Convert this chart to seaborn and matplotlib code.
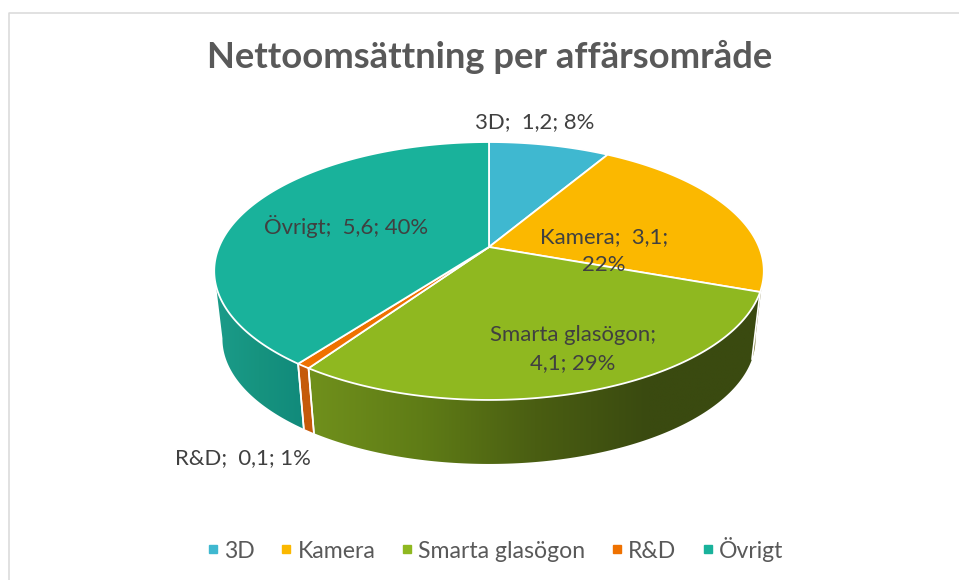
import numpy as np
import seaborn as sns
import matplotlib
matplotlib.use("Agg")
import matplotlib.pyplot as plt
from matplotlib.colors import LinearSegmentedColormap
from matplotlib.lines import Line2D
from matplotlib.patches import Polygon

categories = ["3D", "Kamera", "Smarta glasögon", "R&D", "Övrigt"]
values = [1.2, 3.1, 4.1, 0.1, 5.6]
percents = [8, 22, 29, 1, 40]
top_colors = ["#3fb8d0", "#fbb800", "#8fb820", "#ef7100", "#19b29b"]

# side wall gradients, left to right
side_colors = [
    ["#3fb8d0", "#3fb8d0"],
    ["#6b6a1c", "#8f8a60"],
    ["#70901c", "#5f7c16", "#4a5e12", "#3a4a10", "#3a4a10"],
    ["#c55a0a", "#c55a0a"],
    ["#1b9c8a", "#16937f", "#118a7b"],
]

# label centres in pixels
label_pos = [(535, 122), (604, 251), (573, 349), (243, 458), (346, 226)]
label_text = [
    "3D;  1,2; 8%",
    "Kamera;  3,1;\n22%",
    "Smarta glasögon;\n4,1; 29%",
    "R&D;  0,1; 1%",
    "Övrigt;  5,6; 40%",
]

sns.set_theme(style="white")
plt.rcParams["font.family"] = ["Lato", "DejaVu Sans"]
palette = sns.color_palette(top_colors)

CX, CY = 489, 247
A, B, K = 270, 124.5, 0.186
SHRINK, DROP = 0.97, 68.6


def rim(t):
    # t in degrees, clockwise from the back of the disc
    r = np.radians(t)
    u, v = np.sin(r), np.cos(r)
    d = 1 + K * v
    return A * u / d, -B * v / d


fig = plt.figure(figsize=(9.59, 5.8), dpi=100)
ax = fig.add_axes([0, 0, 1, 1])
ax.set_xlim(0, 959)
ax.set_ylim(580, 0)
ax.axis("off")

ax.plot([9, 9, 959], [580, 12.5, 12.5], color="#d9d9d9", lw=1.1)

edges = np.concatenate([[0], np.cumsum(values)]) / sum(values) * 360
vis0, vis1 = 100.0, 259.5

# side walls
for i in range(len(values)):
    t0, t1 = max(edges[i], vis0), min(edges[i + 1], vis1)
    if t1 <= t0:
        continue
    ts = np.linspace(t0, t1, 120)
    x, y = rim(ts)
    top = np.column_stack([CX + x, CY + y])
    bot = np.column_stack([CX + SHRINK * x, CY + SHRINK * y + DROP])
    pts = np.vstack([top, bot[::-1]])
    cm = LinearSegmentedColormap.from_list(f"side{i}", side_colors[i])
    poly = Polygon(pts, closed=True, fc="none", ec="none")
    ax.add_patch(poly)
    im = ax.imshow(np.linspace(0, 1, 256)[None, :], cmap=cm, aspect="auto", interpolation="bilinear",
                   extent=[pts[:, 0].min(), pts[:, 0].max(), pts[:, 1].max(), pts[:, 1].min()], zorder=1)
    im.set_clip_path(poly)
    if i in (2, 3, 4):
        # white seams between the walls
        for j in ([0] if i == 4 else [0, -1]):
            ax.plot([top[j, 0], bot[j, 0]], [top[j, 1], bot[j, 1]], color="white", lw=1.2, zorder=2)

# top surface
for i in range(len(values)):
    ts = np.linspace(edges[i], edges[i + 1], 200)
    x, y = rim(ts)
    xs = np.concatenate([[CX], CX + x])
    ys = np.concatenate([[CY], CY + y])
    ax.fill(xs, ys, facecolor=palette[i], edgecolor="white", lw=1.3, zorder=3)

ax.set_xlim(0, 959)
ax.set_ylim(580, 0)

ax.text(489.5, 57, "Nettoomsättning per affärsområde", ha="center", va="center",
        fontsize=26.2, fontweight="bold", color="#595959")

for (lx, ly), txt in zip(label_pos, label_text):
    ax.text(lx, ly, txt, ha="center", va="center", fontsize=15.9, color="#404040",
            linespacing=1.45, zorder=5)

handles = [Line2D([], [], ls="none", marker="s", ms=5.8, mfc=c, mec=c) for c in palette]
ax.legend(handles, categories, ncol=5, loc="center", bbox_to_anchor=(492.5 / 959, 1 - 549 / 580),
          frameon=False, fontsize=16.6, labelcolor="#595959", handletextpad=0.0,
          columnspacing=0.85, handlelength=1.0)

fig.savefig("out.png", dpi=100)
